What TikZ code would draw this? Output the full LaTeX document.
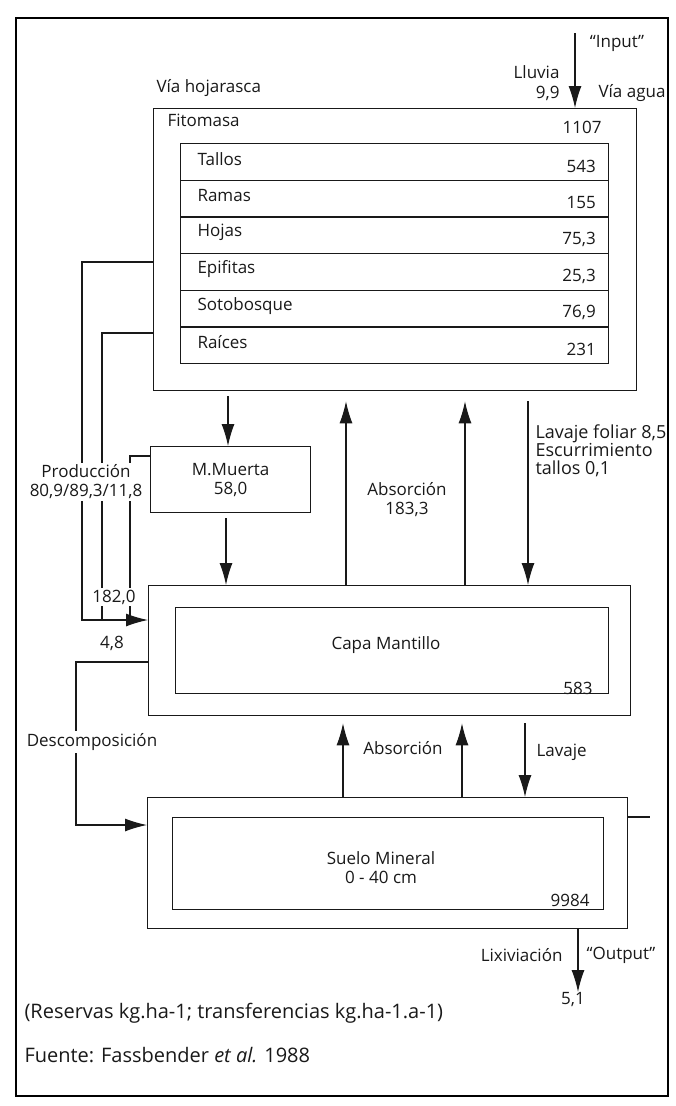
\documentclass[tikz,border=0pt]{standalone}
\usepackage{fontspec}
\setmainfont{Open Sans}
\usetikzlibrary{positioning,arrows.meta}

\begin{document}
\begin{tikzpicture}[x=1pt, y=-1pt,
    every node/.style={font=\fontsize{17}{19}\selectfont, text=black!90},
    box/.style={draw=black!90, line width=1.3pt, inner sep=0pt, anchor=north west},
    flow/.style={draw=black!90, line width=1.1pt, -{Latex[length=22pt, width=13pt]}},
    wire/.style={draw=black!90, line width=1.1pt},
    gaplbl/.style={fill=white, inner sep=2pt, align=center}]

    \useasboundingbox (0,0) rectangle (675,1106);
    \path[draw, line width=1.8pt] (16,18) rectangle (668,1096);

    % boxes
    \node[box, minimum width=483pt, minimum height=282pt] (fito) at (153,108) {};
    \node[box, minimum width=428pt, minimum height=220pt] (fitoin) at (180,143) {};
    \node[box, minimum width=160pt, minimum height=66pt, align=center] (muerta) at (150,446) {M.Muerta\\58,0};
    \node[box, minimum width=482pt, minimum height=130pt] (capa) at (148,585) {};
    \node[box, minimum width=433pt, minimum height=86pt] (capain) at (175,607) {};
    \node[box, minimum width=480pt, minimum height=131pt] (suelo) at (147,797) {};
    \node[box, minimum width=431pt, minimum height=92pt] (sueloin) at (172,817) {};

    % fitomasa rows
    \foreach \name/\val [count=\i] in {Tallos/543, Ramas/155, Hojas/{75,3}, Epifitas/{25,3}, Sotobosque/{76,9}, Raíces/231} {
        \pgfmathsetmacro{\rowtop}{143+(\i-1)*36.67}
        \node[box, minimum width=428pt, minimum height=36.67pt] (row\i) at (180,\rowtop) {};
        \node[anchor=west] (name\i) at ([xshift=14pt, yshift=3pt]row\i.west) {\name};
        \node[anchor=east] (val\i) at ([xshift=-10pt, yshift=-4pt]row\i.east) {\val};
    }

    % labels of the compartments
    \node[anchor=west] (fitolbl) at (164,120) {Fitomasa};
    \node[anchor=east] (fitoval) at (605,127) {1107};
    \node[anchor=south west] (viahoj) at ([yshift=8pt]fito.north west) {Vía hojarasca};
    \node (capalbl) at (386,645) {Capa Mantillo};
    \node[anchor=east] (capaval) at (596,688) {583};
    \node[align=center] (suelolbl) at (381,868) {Suelo Mineral\\0 - 40 cm};
    \node[anchor=east] (sueloval) at (593,900) {9984};

    % input and output
    \coordinate (rain) at (575,33);
    \coordinate (leach) at (578,992);
    \path[flow] (rain) -- (fito.north -| rain);
    \node (input) at (617,43) {“Input”};
    \node[anchor=east] (lluvia) at (563,72) {Lluvia};
    \node[anchor=east] (lluviaval) at (563,93) {9,9};
    \node (viaagua) at (632,93) {Vía agua};
    \path[flow] (suelo.south -| leach) -- (leach);
    \node[anchor=east] (lix) at (566,955) {Lixiviación};
    \node (output) at (621,955) {“Output”};
    \node (lixval) at (573,1000) {5,1};
    \path[wire] (suelo.east |- 0,817) -- ++(22,0);

    % vertical flows
    \coordinate (upA) at (346,0);
    \coordinate (upB) at (465,0);
    \coordinate (downA) at (528,0);
    \coordinate (lowA) at (343,0);
    \coordinate (lowB) at (462,0);
    \coordinate (lowC) at (525,0);
    \path[flow, shorten <=5pt] (fito.south -| 228,0) -- (muerta.north -| 228,0);
    \path[flow, shorten <=5pt] (muerta.south -| 226,0) -- (capa.north -| 226,0);
    \path[flow, shorten >=10pt] (capa.north -| upA) -- (fito.south -| upA);
    \path[flow, shorten >=10pt] (capa.north -| upB) -- (fito.south -| upB);
    \path[flow, shorten <=10pt] (fito.south -| downA) -- (capa.north -| downA);
    \path[flow, shorten >=7pt] (suelo.north -| lowA) -- (capa.south -| lowA);
    \path[flow, shorten >=7pt] (suelo.north -| lowB) -- (capa.south -| lowB);
    \path[flow, shorten <=7pt] (capa.south -| lowC) -- (suelo.north -| lowC);
    \node[align=center] (abs1) at (407,500) {Absorción\\183,3};
    \node[anchor=north west, align=left, font=\fontsize{18}{18}\selectfont] (lavfol) at (532,421) {Lavaje foliar 8,5\\Escurrimiento\\tallos 0,1};
    \node (abs2) at (403,748) {Absorción};
    \node[anchor=west] (lavaje) at (533,752) {Lavaje};

    % produccion
    \coordinate (fitoA) at (fito.west |- 0,262);
    \coordinate (fitoB) at (fito.west |- 0,333);
    \coordinate (muertaC) at (muerta.west |- 0,456);
    \coordinate (capaIn) at (capa.west |- 0,620);
    \path[wire] (fitoB) -| (102,620);
    \path[wire] (muertaC) -| (130,620);
    \path[flow] (fitoA) -| (82,620) -- (capaIn);
    \node[gaplbl] (prod) at (86,482) {Producción\\80,9/89,3/11,8};
    \node[gaplbl] (total) at (114,597) {182,0};
    \node (cuatro) at (112,643) {4,8};

    % descomposicion
    \coordinate (capaD) at (capa.west |- 0,662);
    \coordinate (sueloIn) at (suelo.west |- 0,825);
    \path[flow] (capaD) -| (76,825) -- (sueloIn);
    \node[gaplbl] (desc) at (92,742) {Descomposición};

    % notes
    \node[anchor=west, font=\fontsize{20}{22}\selectfont] (units) at (21,1013) {(Reservas kg.ha-1; transferencias kg.ha-1.a-1)};
    \node[anchor=west, font=\fontsize{20}{22}\selectfont] (source) at (21,1055) {Fuente: Fassbender \textit{et al.} 1988};

\end{tikzpicture}
\end{document}
